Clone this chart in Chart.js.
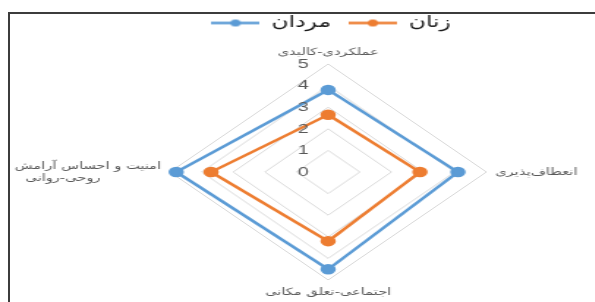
<!DOCTYPE html>
<html lang="fa">
<head>
  <meta charset="UTF-8">
  <title>نمودار راداری</title>
  <script src="https://cdn.jsdelivr.net/npm/chart.js"></script>
  <style>
    html, body { margin: 0; padding: 0; background: #fff; }
    body { width: 595px; height: 302px; overflow: hidden; position: relative; }
    #frame {
      position: absolute; left: 8px; top: 12px; width: 600px; height: 300px;
      border-left: 2px solid #3c3c3c; border-top: 2px solid #3c3c3c;
    }
    /* the reference picture is stretched sideways, so the canvas is too */
    #wrap { position: absolute; left: 0; top: 0; transform: scaleX(1.465); transform-origin: 0 0; }
  </style>
</head>
<body>
  <div id="frame"></div>
  <div id="wrap"><canvas id="radar" width="428" height="302"></canvas></div>

  <script>
    // داده‌ها
    const abaad = [
      'عملکردی-کالبدی',
      'انعطاف‌پذیری',
      'اجتماعی-تعلق مکانی',
      ['امنیت و احساس آرامش', 'روحی-روانی             ']
    ];
    const mardan = [3.8, 4.1, 4.5, 4.8];
    const zanan = [2.65, 2.9, 3.2, 3.7];
    const tickValues = [0, 1, 2, 3, 4, 5];

    const abi = '#5b9bd5';
    const narenji = '#ed7d31';

    // marker of the legend: a short line with a dot
    function legendMarker(color) {
      const c = document.createElement('canvas');
      c.width = 33; c.height = 9;
      const g = c.getContext('2d');
      g.strokeStyle = color; g.lineWidth = 2.5;
      g.beginPath(); g.moveTo(0, 4.5); g.lineTo(33, 4.5); g.stroke();
      g.fillStyle = color;
      g.beginPath(); g.arc(16.5, 4.5, 3.5, 0, Math.PI * 2); g.fill();
      return c;
    }
    const markers = [legendMarker(abi), legendMarker(narenji)];

    // legend: a bit more room below it, and moved a little to the right
    const legendTweak = {
      id: 'legendTweak',
      beforeInit(chart) {
        const lg = chart.legend;
        const fit = lg.fit;
        lg.fit = function () { fit.call(lg); lg.height += 1; };
        const draw = lg.draw;
        lg.draw = function () {
          lg.ctx.save();
          lg.ctx.translate(12, 0);
          draw.call(lg);
          lg.ctx.restore();
        };
      }
    };

    // tick numbers sit a little left of the vertical axis, like Excel
    const tickText = {
      id: 'tickText',
      afterDraw(chart) {
        const r = chart.scales.r;
        const ctx = chart.ctx;
        ctx.save();
        ctx.font = '13.5px "Liberation Sans Narrow", "Liberation Sans", sans-serif';
        ctx.fillStyle = '#595959';
        ctx.textAlign = 'center';
        ctx.textBaseline = 'middle';
        tickValues.forEach(v => {
          const d = r.getDistanceFromCenterForValue(v);
          ctx.fillText(String(v), r.xCenter - 17, r.yCenter - d);
        });
        ctx.restore();
      }
    };

    new Chart(document.getElementById('radar'), {
      type: 'radar',
      data: {
        labels: abaad,
        datasets: [
          {
            label: 'مردان',
            data: mardan,
            borderColor: abi,
            backgroundColor: abi,
            pointBackgroundColor: abi,
            pointBorderColor: abi,
            borderWidth: 2.5,
            pointRadius: 4,
            fill: false
          },
          {
            label: 'زنان',
            data: zanan,
            borderColor: narenji,
            backgroundColor: narenji,
            pointBackgroundColor: narenji,
            pointBorderColor: narenji,
            borderWidth: 2.5,
            pointRadius: 4,
            fill: false
          }
        ]
      },
      options: {
        responsive: false,
        animation: false,
        layout: { padding: { top: 3, left: 0, right: 0, bottom: 0 } },
        plugins: {
          legend: {
            position: 'top',
            labels: {
              usePointStyle: true,
              pointStyleWidth: 33,
              padding: 12,
              color: '#1a1a1a',
              font: { family: '"DejaVu Sans", sans-serif', size: 16 },
              generateLabels(chart) {
                return chart.data.datasets.map((ds, i) => ({
                  text: ds.label,
                  pointStyle: markers[i],
                  fillStyle: ds.borderColor,
                  strokeStyle: ds.borderColor,
                  lineWidth: 0,
                  fontColor: '#1a1a1a',
                  datasetIndex: i
                }));
              }
            }
          },
          tooltip: { enabled: false }
        },
        scales: {
          r: {
            min: 0,
            max: 5,
            ticks: { stepSize: 1, display: false },
            grid: { color: '#d9d9d9', lineWidth: 1 },
            angleLines: { display: false },
            pointLabels: {
              padding: 6,
              color: '#595959',
              font: { family: '"DejaVu Sans", sans-serif', size: 10 }
            }
          }
        }
      },
      plugins: [legendTweak, tickText]
    });
  </script>
</body>
</html>
